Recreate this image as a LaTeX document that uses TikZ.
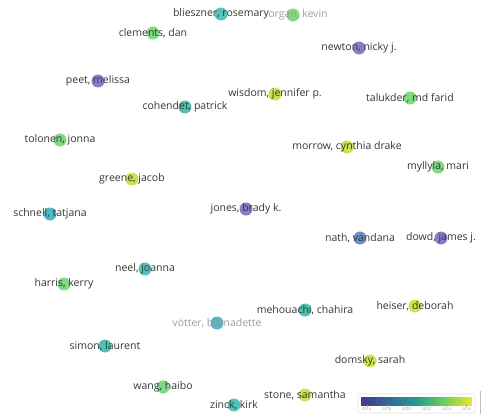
\documentclass[tikz,border=0pt]{standalone}
\usepackage{fontspec}
\setmainfont{Open Sans}
\definecolor{txt}{HTML}{363636}
\definecolor{gtxt}{HTML}{9E9E9E}
\definecolor{cpur}{HTML}{7872C6}
\definecolor{cblu}{HTML}{5A84C4}
\definecolor{ctb}{HTML}{3DB0BD}
\definecolor{ctl}{HTML}{3DBBA8}
\definecolor{ctq}{HTML}{40BDB4}
\definecolor{cgrn}{HTML}{72D675}
\definecolor{cyel}{HTML}{C8E03B}
\definecolor{vA}{HTML}{3E3B8B}
\definecolor{vB}{HTML}{35679A}
\definecolor{vC}{HTML}{249F8A}
\definecolor{vD}{HTML}{6ECE5C}
\definecolor{vE}{HTML}{F0E52B}
\pgfdeclarehorizontalshading{viridisbar}{100bp}{color(0bp)=(vA); color(25bp)=(vA); color(37.5bp)=(vB); color(50bp)=(vC); color(62.5bp)=(vD); color(75bp)=(vE); color(100bp)=(vE)}
\tikzset{
  dot/.style={circle, inner sep=0pt, minimum size=13pt, draw=none, fill opacity=0.9},
  lab/.style={font=\fontsize{10.5}{12}\selectfont, text=txt, inner sep=0pt},
  glab/.style={lab, text=gtxt},
  tick/.style={font=\fontsize{4}{5}\selectfont, text=gtxt, inner sep=0pt}
}
\newcommand\auth[6]{%
  \node[dot, fill=#5] (c#1) at (#2,#3) {};
  \node[#6] (l#1) at (c#1) {#4};}
\begin{document}
\begin{tikzpicture}[x=1pt,y=-1pt]
\useasboundingbox (0,0) rectangle (485,420);
\fill[white] (0,0) rectangle (485,420);
\auth{a}{221}{14}{blieszner, rosemary}{ctq}{lab}
\node[dot, fill=cgrn] (cb) at (293,15) {};
\node[glab] (lb) at (298,15) {organ, kevin};
\auth{c}{153}{33}{clements, dan}{cgrn}{lab}
\auth{d}{359}{48}{newton, nicky j.}{cpur}{lab}
\auth{e}{98}{81}{peet, melissa}{cpur}{lab}
\auth{f}{275}{94}{wisdom, jennifer p.}{cyel}{lab}
\auth{g}{410}{98}{talukder, md farid}{cgrn}{lab}
\auth{h}{185}{107}{cohendet, patrick}{ctl}{lab}
\auth{i}{60}{140}{tolonen, jonna}{cgrn}{lab}
\auth{j}{347}{147}{morrow, cynthia drake}{cyel}{lab}
\auth{k}{438}{167}{myllyla, mari}{cgrn}{lab}
\auth{l}{132}{179}{greene, jacob}{cyel}{lab}
\auth{m}{246}{209}{jones, brady k.}{cpur}{lab}
\auth{n}{50}{214}{schnell, tatjana}{ctb}{lab}
\auth{o}{360}{238}{nath, vandana}{cblu}{lab}
\auth{p}{441}{238}{dowd, james j.}{cpur}{lab}
\auth{q}{145}{269}{neel, joanna}{ctq}{lab}
\auth{r}{64}{284}{harris, kerry}{cgrn}{lab}
\auth{s}{217}{323}{vötter, bernadette}{ctb}{glab}
\auth{t}{305}{310}{mehouachi, chahira}{ctl}{lab}
\auth{u}{415}{306}{heiser, deborah}{cyel}{lab}
\auth{v}{105}{346}{simon, laurent}{ctl}{lab}
\auth{w}{370}{361}{domsky, sarah}{cyel}{lab}
\auth{x}{163}{387}{wang, haibo}{cgrn}{lab}
\auth{y}{305}{395}{stone, samantha}{cyel}{lab}
\auth{z}{234}{405}{zinck, kirk}{ctq}{lab}
% colour bar
\draw[black!12, rounded corners=2pt, line width=0.6pt] (358,394) rectangle (475,413);
\draw[black!25, line width=0.6pt] (480,391) -- (480,414);
\shade[shading=viridisbar] (361,397) rectangle (472,405);
\foreach \yr/\xx in {2016/366.7,2018/386.7,2020/406.7,2022/426.5,2024/446.5,2026/466.5}{
  \draw[black!35, line width=0.3pt] (\xx,405) -- (\xx,406.5);
  \node[tick] (t\yr) at (\xx,409) {\yr};
}
\end{tikzpicture}
\end{document}
